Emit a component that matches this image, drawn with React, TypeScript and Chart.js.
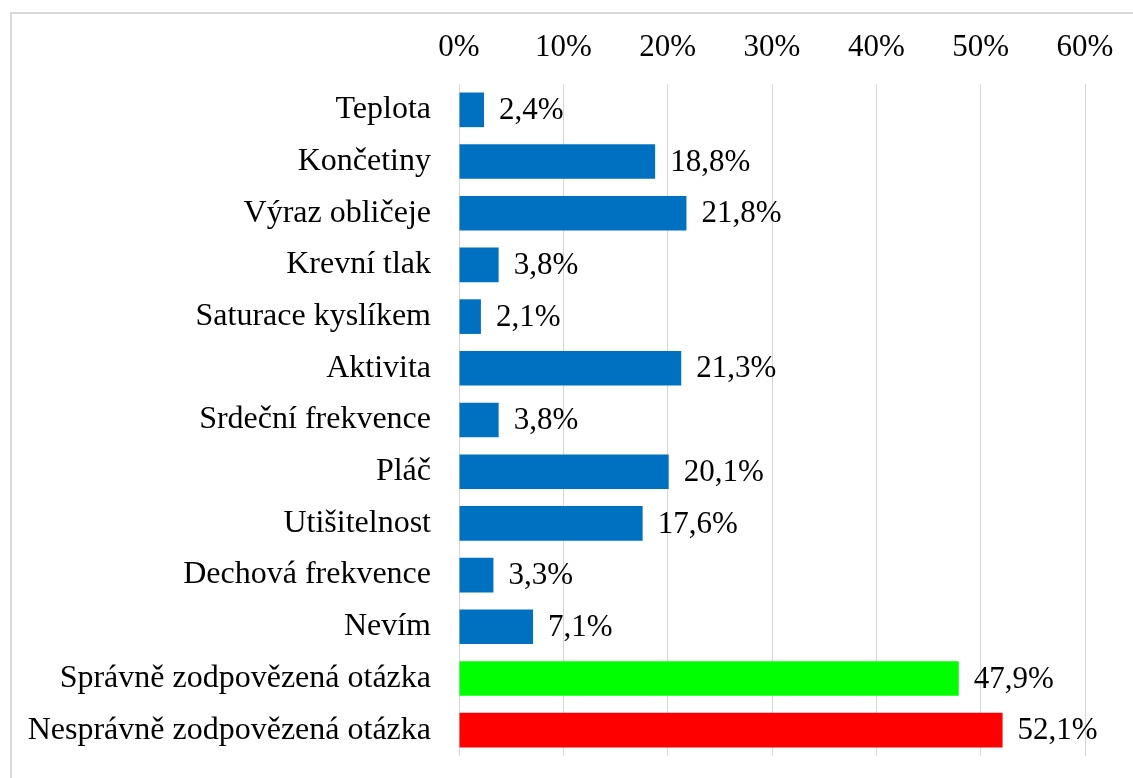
import React, { useEffect, useRef } from "react";
import { Chart, registerables } from "chart.js";

Chart.register(...registerables);

const categories = [
  "Teplota",
  "Končetiny",
  "Výraz obličeje",
  "Krevní tlak",
  "Saturace kyslíkem",
  "Aktivita",
  "Srdeční frekvence",
  "Pláč",
  "Utišitelnost",
  "Dechová frekvence",
  "Nevím",
  "Správně zodpovězená otázka",
  "Nesprávně zodpovězená otázka",
];

const values = [2.4, 18.8, 21.8, 3.8, 2.1, 21.3, 3.8, 20.1, 17.6, 3.3, 7.1, 47.9, 52.1];

const barColors = [
  "#0070C0", "#0070C0", "#0070C0", "#0070C0", "#0070C0", "#0070C0",
  "#0070C0", "#0070C0", "#0070C0", "#0070C0", "#0070C0",
  "#00FF00", "#FF0000",
];

const xMin = 0;
const xMax = 60;
const xStep = 10;

const FONT_FAMILY = "'Liberation Serif', 'Times New Roman', serif";
const FONT_SIZE = 31;
const CAT_FONT_SIZE = 32;

const formatPct = (v: number) => v.toFixed(1).replace(".", ",") + "%";

const borderPlugin = {
  id: "outerBorder",
  beforeDraw(chart: any) {
    const ctx = chart.ctx;
    ctx.save();
    ctx.strokeStyle = "#D9D9D9";
    ctx.lineWidth = 2;
    ctx.beginPath();
    ctx.moveTo(11, chart.height + 5);
    ctx.lineTo(11, 13);
    ctx.lineTo(chart.width + 5, 13);
    ctx.stroke();
    ctx.restore();
  },
};

const dataLabelPlugin = {
  id: "dataLabels",
  afterDatasetsDraw(chart: any) {
    const ctx = chart.ctx;
    const meta = chart.getDatasetMeta(0);
    const data = chart.data.datasets[0].data as number[];
    ctx.save();
    ctx.font = `${FONT_SIZE}px ${FONT_FAMILY}`;
    ctx.fillStyle = "#000000";
    ctx.textAlign = "left";
    ctx.textBaseline = "middle";
    meta.data.forEach((bar: any, i: number) => {
      ctx.fillText(formatPct(data[i]), bar.x + 15, bar.y + 1);
    });
    ctx.restore();
  },
};

export default function App() {
  const canvasRef = useRef<HTMLCanvasElement | null>(null);

  useEffect(() => {
    document.body.style.margin = "0";
    const canvas = canvasRef.current;
    if (!canvas) return;
    const chart = new Chart(canvas, {
      type: "bar",
      data: {
        labels: categories,
        datasets: [
          {
            data: values,
            backgroundColor: barColors,
            borderWidth: 0,
            barPercentage: 0.67,
            categoryPercentage: 1,
          },
        ],
      },
      options: {
        indexAxis: "y",
        responsive: false,
        maintainAspectRatio: false,
        animation: false,
        layout: { padding: { top: 0, left: 0, right: 48, bottom: 22 } },
        plugins: {
          legend: { display: false },
          tooltip: { enabled: false },
        },
        scales: {
          x: {
            position: "top",
            min: xMin,
            max: xMax,
            ticks: {
              stepSize: xStep,
              padding: 18,
              color: "#000000",
              font: { family: FONT_FAMILY, size: FONT_SIZE },
              callback: (v: any) => `${v}%`,
            },
            grid: { color: "#D6D6D6", lineWidth: 1, drawTicks: false },
            border: { display: false },
            afterFit: (scale: any) => {
              scale.height = 84;
            },
          },
          y: {
            ticks: {
              padding: 28,
              color: "#000000",
              font: { family: FONT_FAMILY, size: CAT_FONT_SIZE },
              autoSkip: false,
            },
            grid: { display: false, drawTicks: false },
            border: { display: false },
            afterFit: (scale: any) => {
              scale.width = 459;
              scale.paddingTop = 0;
              scale.paddingBottom = 0;
            },
          },
        },
      },
      plugins: [borderPlugin, dataLabelPlugin],
    });
    return () => chart.destroy();
  }, []);

  return (
    <div style={{ width: 1133, height: 778, background: "#FFFFFF" }}>
      <canvas ref={canvasRef} width={1133} height={778} style={{ display: "block" }} />
    </div>
  );
}
